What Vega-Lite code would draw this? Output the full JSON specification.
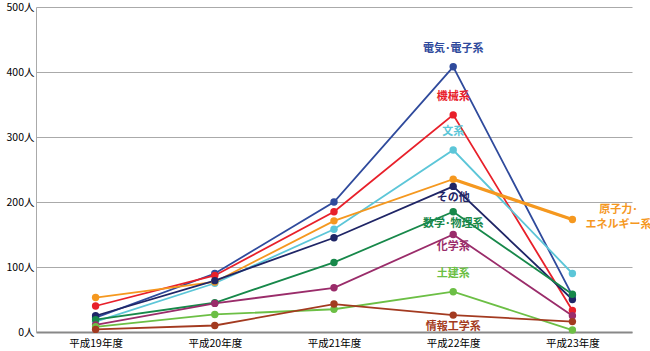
{
  "$schema": "https://vega.github.io/schema/vega-lite/v6.json",
  "width": 596,
  "height": 325,
  "autosize": {"type": "none"},
  "padding": {"left": 36, "top": 7, "right": 18, "bottom": 19},
  "background": "white",
  "config": {
    "view": {"stroke": null},
    "font": "Noto Sans CJK JP",
    "text": {"font": "Noto Sans CJK JP"}
  },
  "data": {
    "values": [
      {"series": "電気･電子系", "year": "平成19年度", "v": 22},
      {"series": "電気･電子系", "year": "平成20年度", "v": 90},
      {"series": "電気･電子系", "year": "平成21年度", "v": 200},
      {"series": "電気･電子系", "year": "平成22年度", "v": 408},
      {"series": "電気･電子系", "year": "平成23年度", "v": 56},
      {"series": "機械系", "year": "平成19年度", "v": 40},
      {"series": "機械系", "year": "平成20年度", "v": 87},
      {"series": "機械系", "year": "平成21年度", "v": 185},
      {"series": "機械系", "year": "平成22年度", "v": 334},
      {"series": "機械系", "year": "平成23年度", "v": 33},
      {"series": "文系", "year": "平成19年度", "v": 16},
      {"series": "文系", "year": "平成20年度", "v": 75},
      {"series": "文系", "year": "平成21年度", "v": 158},
      {"series": "文系", "year": "平成22年度", "v": 280},
      {"series": "文系", "year": "平成23年度", "v": 90},
      {"series": "原子力･エネルギー系", "year": "平成19年度", "v": 53},
      {"series": "原子力･エネルギー系", "year": "平成20年度", "v": 77},
      {"series": "原子力･エネルギー系", "year": "平成21年度", "v": 171},
      {"series": "原子力･エネルギー系", "year": "平成22年度", "v": 235},
      {"series": "原子力･エネルギー系", "year": "平成23年度", "v": 173},
      {"series": "その他", "year": "平成19年度", "v": 25},
      {"series": "その他", "year": "平成20年度", "v": 79},
      {"series": "その他", "year": "平成21年度", "v": 145},
      {"series": "その他", "year": "平成22年度", "v": 224},
      {"series": "その他", "year": "平成23年度", "v": 50},
      {"series": "数学･物理系", "year": "平成19年度", "v": 19},
      {"series": "数学･物理系", "year": "平成20年度", "v": 45},
      {"series": "数学･物理系", "year": "平成21年度", "v": 107},
      {"series": "数学･物理系", "year": "平成22年度", "v": 185},
      {"series": "数学･物理系", "year": "平成23年度", "v": 58},
      {"series": "化学系", "year": "平成19年度", "v": 11},
      {"series": "化学系", "year": "平成20年度", "v": 44},
      {"series": "化学系", "year": "平成21年度", "v": 68},
      {"series": "化学系", "year": "平成22年度", "v": 150},
      {"series": "化学系", "year": "平成23年度", "v": 25},
      {"series": "土建系", "year": "平成19年度", "v": 8},
      {"series": "土建系", "year": "平成20年度", "v": 27},
      {"series": "土建系", "year": "平成21年度", "v": 35},
      {"series": "土建系", "year": "平成22年度", "v": 62},
      {"series": "土建系", "year": "平成23年度", "v": 3},
      {"series": "情報工学系", "year": "平成19年度", "v": 4},
      {"series": "情報工学系", "year": "平成20年度", "v": 10},
      {"series": "情報工学系", "year": "平成21年度", "v": 43},
      {"series": "情報工学系", "year": "平成22年度", "v": 26},
      {"series": "情報工学系", "year": "平成23年度", "v": 16}
    ]
  },
  "encoding": {
    "x": {
      "field": "year", "type": "ordinal",
      "scale": {"type": "point", "padding": 0.5},
      "axis": {
        "title": null, "labelAngle": 0, "labelFontSize": 10.5, "labelColor": "#000",
        "ticks": false, "domainColor": "#888", "domainWidth": 2, "labelPadding": 6, "grid": false
      }
    },
    "y": {
      "field": "v", "type": "quantitative",
      "scale": {"domain": [0, 500], "nice": false},
      "axis": {
        "title": null, "values": [0, 100, 200, 300, 400, 500],
        "labelExpr": "datum.value + '人'", "labelFontSize": 10.5, "labelColor": "#000",
        "ticks": false, "labelPadding": 2, "domainColor": "#aaa",
        "gridColor": "#aaa", "gridWidth": 1
      }
    },
    "color": {
      "field": "series", "type": "nominal", "legend": null,
      "scale": {
        "domain": ["電気･電子系", "機械系", "文系", "原子力･エネルギー系", "その他", "数学･物理系", "化学系", "土建系", "情報工学系"],
        "range": ["#2f4a9c", "#e8202a", "#5cc6d8", "#f5981f", "#1f2566", "#17884a", "#9a2c6a", "#6cbf45", "#a33a20"]
      }
    }
  },
  "layer": [
    {"mark": {"type": "line", "strokeWidth": 1.8}, "encoding": {"detail": {"field": "series"}}},
    {
      "transform": [{"filter": "datum.series == '原子力･エネルギー系' && (datum.year == '平成22年度' || datum.year == '平成23年度')"}],
      "mark": {"type": "line", "strokeWidth": 3.2}
    },
    {"mark": {"type": "circle", "size": 55, "opacity": 1}},
    {
      "transform": [{"filter": "datum.year == '平成22年度' && (datum.series == '機械系' || datum.series == '文系' || datum.series == '土建系' || datum.series == '電気･電子系')"}],
      "mark": {"type": "text", "dy": -13, "fontSize": 11, "fontWeight": "bold", "baseline": "bottom"},
      "encoding": {"text": {"field": "series"}}
    },
    {
      "transform": [{"filter": "datum.year == '平成22年度' && (datum.series == 'その他' || datum.series == '数学･物理系' || datum.series == '化学系' || datum.series == '情報工学系')"}],
      "mark": {"type": "text", "dy": 6, "fontSize": 11, "fontWeight": "bold", "baseline": "top"},
      "encoding": {"text": {"field": "series"}}
    },
    {
      "transform": [{"filter": "datum.year == '平成23年度' && datum.series == '原子力･エネルギー系'"}],
      "mark": {"type": "text", "dx": 46, "dy": -5, "fontSize": 11, "fontWeight": "bold", "baseline": "bottom"},
      "encoding": {"text": {"value": "原子力･"}}
    },
    {
      "transform": [{"filter": "datum.year == '平成23年度' && datum.series == '原子力･エネルギー系'"}],
      "mark": {"type": "text", "dx": 46, "dy": -1, "fontSize": 11, "fontWeight": "bold", "baseline": "top"},
      "encoding": {"text": {"value": "エネルギー系"}}
    }
  ]
}
